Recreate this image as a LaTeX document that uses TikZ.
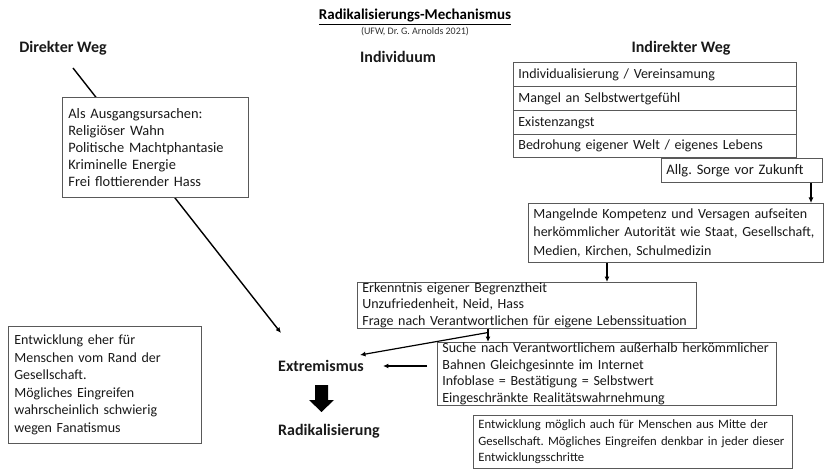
\documentclass[tikz,border=0pt]{standalone}
\usepackage{fontspec}
\setmainfont{Carlito}
\usetikzlibrary{arrows.meta,backgrounds,calc}
\frenchspacing
\begin{document}
\begin{tikzpicture}[x=1pt,y=-1pt,
  box/.style={draw=black!65, line width=0.8pt, fill=white, align=left, inner xsep=5pt, inner ysep=0pt, anchor=north west, text=black!90},
  bodyfont/.style={font=\fontsize{14}{17}\selectfont\frenchspacing},
  head/.style={font=\fontsize{16}{19}\selectfont\bfseries, inner sep=0pt, text=black!90},
  conn/.style={line width=1.2pt, -{Latex[length=5.5pt,width=5pt]}}
]
\useasboundingbox (0,0) rectangle (827,473);

% headings
\node[font=\fontsize{15}{18}\selectfont\bfseries, inner sep=0pt] (title) at (415,17) {\underline{Radikalisierungs-Mechanismus}};
\node[font=\fontsize{10}{12}\selectfont, inner sep=0pt, text=black!80] (sub) at (415,32) {(UFW, Dr. G. Arnolds 2021)};
\node[head] (dw) at (63,48) {Direkter Weg};
\node[head] (ind) at (398,57) {Individuum};
\node[head] (iw) at (681,48) {Indirekter Weg};

% left box
\node[box, font=\fontsize{14.4}{17}\selectfont, inner xsep=6pt, text width=174pt, minimum height=100pt] (aus) at (62,97)
 {Als Ausgangsursachen:\\Religiöser Wahn\\Politische Machtphantasie\\Kriminelle Energie\\Frei flottierender Hass};

% right stacked boxes
\node[box, bodyfont, text width=273pt, minimum height=24pt] (r1) at (513,62) {Individualisierung / Vereinsamung};
\node[box, bodyfont, text width=273pt, minimum height=24pt] (r2) at (513,86) {Mangel an Selbstwertgefühl};
\node[box, bodyfont, text width=273pt, minimum height=24pt] (r3) at (513,110) {Existenzangst};
\node[box, bodyfont, text width=273pt, minimum height=23pt] (r4) at (513,134) {Bedrohung eigener Welt / eigenes Lebens};
\node[box, font=\fontsize{14.5}{17}\selectfont, text width=151pt, minimum height=24pt] (allg) at (661,158) {Allg. Sorge vor Zukunft};

\node[box, font=\fontsize{14}{18.5}\selectfont, text width=285pt, minimum height=59pt] (mang) at (528,203)
 {Mangelnde Kompetenz und Versagen aufseiten\\herkömmlicher Autorität wie Staat, Gesellschaft,\\Medien, Kirchen, Schulmedizin};

\node[box, font=\fontsize{14}{16.8}\selectfont, text width=329pt, minimum height=45pt] (erk) at (357,282)
 {Erkenntnis eigener Begrenztheit\\Unzufriedenheit, Neid, Hass\\Frage nach Verantwortlichen für eigene Lebenssituation};

\node[box, font=\fontsize{14}{16.5}\selectfont, text width=329pt, minimum height=63pt] (such) at (437,342)
 {Suche nach Verantwortlichem außerhalb herkömmlicher\\Bahnen Gleichgesinnte im Internet\\Infoblase = Bestätigung = Selbstwert\\Eingeschränkte Realitätswahrnehmung};

\node[box, font=\fontsize{14}{17.5}\selectfont, inner xsep=6pt, text width=181pt, minimum height=117pt] (rand) at (8,326)
 {Entwicklung eher für\\Menschen vom Rand der\\Gesellschaft.\\Mögliches Eingreifen\\wahrscheinlich schwierig\\wegen Fanatismus};

\node[box, font=\fontsize{12.7}{16.5}\selectfont, text width=309pt, minimum height=53pt] (mitte) at (473,415)
 {Entwicklung möglich auch für Menschen aus Mitte der\\Gesellschaft. Mögliches Eingreifen denkbar in jeder dieser\\Entwicklungsschritte};

% outcome labels
\node[head, anchor=west] (ext) at (278,366) {Extremismus};
\node[head, anchor=west] (rad) at (278,431) {Radikalisierung};

% connectors
\coordinate (d0) at (73,68);
\coordinate (dtip) at (281,333);
\begin{scope}[on background layer]
\draw[conn, line width=1.4pt] (d0) -- (dtip);
\end{scope}

\coordinate (xa) at (811,0);
\draw[conn] (allg.south -| xa) -- (mang.north -| xa);
\coordinate (xb) at (607,0);
\draw[conn] (mang.south -| xb) -- (erk.north -| xb);
\coordinate (xc) at (488,0);
\draw[conn] (erk.south -| xc) -- (such.north -| xc);
\coordinate (etip) at (360,355);
\draw[conn] ($(erk.south -| xc)+(0,4)$) -- (etip);
\draw[conn] ([xshift=-10pt]such.west |- ext.east) -- ([xshift=19pt]ext.east);

% big arrow
\fill[black] (315,385) -- (328,385) -- (328,400) -- (334,400) -- (321.5,412) -- (309,400) -- (315,400) -- cycle;
\end{tikzpicture}
\end{document}
